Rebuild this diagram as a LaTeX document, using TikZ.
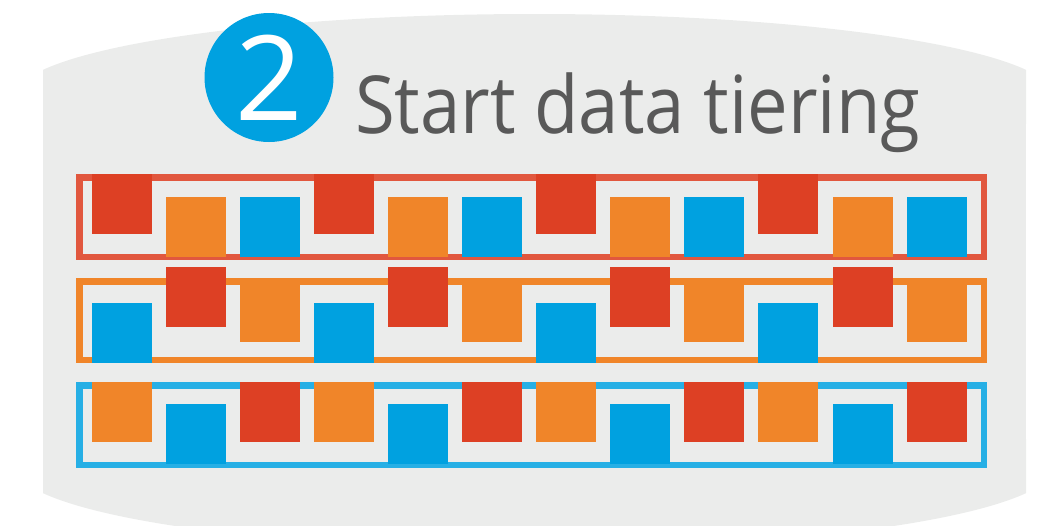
\documentclass[tikz,border=0pt]{standalone}
\usepackage{fontspec}
\setmainfont{Open Sans}
\definecolor{bggray}{HTML}{EBECEB}
\definecolor{cred}{HTML}{DD4024}
\definecolor{corange}{HTML}{F08529}
\definecolor{cblue}{HTML}{00A1E0}
\definecolor{ctext}{HTML}{595959}
\tikzset{
  sq/.style={anchor=north west, minimum size=60pt, inner sep=0pt, outer sep=0pt, draw=none},
  framebox/.style={rectangle, line width=6.5pt, minimum width=904.5pt, inner sep=0pt, outer sep=0pt},
  badge/.style={circle, fill=cblue, minimum size=129pt, inner sep=0pt, text=white, font=\fontsize{118}{118}\selectfont},
  title/.style={anchor=base west, inner sep=0pt, text=ctext, font=\fontsize{80}{80}\selectfont}
}
\begin{document}
\begin{tikzpicture}[x=1pt,y=-1pt]
\useasboundingbox (0,0) rectangle (1055,525);
% background cylinder
\begin{scope}
  \clip (43,0) rectangle (1026,525);
  \fill[bggray] (534.5,97) ellipse (520 and 83);
  \fill[bggray] (534.5,466) ellipse (520 and 83);
  \fill[bggray] (43,97) rectangle (1026,466);
\end{scope}
% badge and title
\node[badge] (num) at (269,77.5) {2};
\node[title] (ttl) at (355,133) {\scalebox{0.905}[1]{Start data tiering}};
% row frames
\node[framebox, draw=cred!88!white, minimum height=79.5pt] (row1) at (531.5,217) {};
\node[framebox, draw=corange, minimum height=78.5pt] (row2) at (531.5,320.5) {};
\node[framebox, draw=cblue!85!white, minimum height=79.5pt] (row3) at (531.5,425) {};
% squares
\foreach \i in {0,...,11}{
  \pgfmathtruncatemacro\m{mod(\i,3)}
  \pgfmathsetmacro\x{91.5+74.1*\i}
  \ifcase\m
    \node[sq, fill=cred] (a\i) at (\x,174) {};
    \node[sq, fill=cblue] (b\i) at (\x,303) {};
    \node[sq, fill=corange] (c\i) at (\x,382) {};
  \or
    \node[sq, fill=corange] (a\i) at (\x,197) {};
    \node[sq, fill=cred] (b\i) at (\x,267) {};
    \node[sq, fill=cblue] (c\i) at (\x,404) {};
  \or
    \node[sq, fill=cblue] (a\i) at (\x,197) {};
    \node[sq, fill=corange] (b\i) at (\x,282) {};
    \node[sq, fill=cred] (c\i) at (\x,382) {};
  \fi
}
\end{tikzpicture}
\end{document}
